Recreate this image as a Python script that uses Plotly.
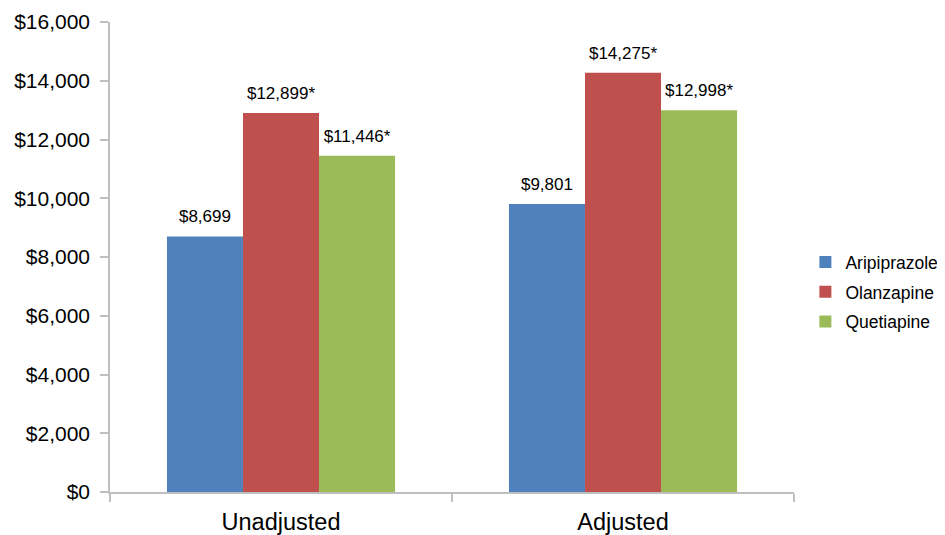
import plotly.graph_objects as go

categories = ["Unadjusted", "Adjusted"]
aripiprazole = [8699, 9801]
olanzapine = [12899, 14275]
quetiapine = [11446, 12998]
aripiprazole_labels = ["$8,699", "$9,801"]
olanzapine_labels = ["$12,899*", "$14,275*"]
quetiapine_labels = ["$11,446*", "$12,998*"]
series_names = ["Aripiprazole", "Olanzapine", "Quetiapine"]
colors = ["#4F81BD", "#C0504D", "#9BBB59"]

FONT = "Liberation Sans, Arial, sans-serif"

fig = go.Figure()
for i, (name, vals, labels, col) in enumerate(zip(series_names,
                                   [aripiprazole, olanzapine, quetiapine],
                                   [aripiprazole_labels, olanzapine_labels, quetiapine_labels],
                                   colors)):
    fig.add_trace(go.Bar(
        x=categories, y=vals, name=name, offsetgroup=str(i), legendgroup=name,
        marker=dict(color=col, line=dict(width=0)),
        hoverinfo="skip",
    ))
    fig.add_trace(go.Scatter(
        x=categories, y=vals, offsetgroup=str(i), showlegend=False,
        mode="markers+text", text=labels, textposition="top center",
        marker=dict(size=14, opacity=0, color=col),
        textfont=dict(size=17, color="#000000", family=FONT),
        cliponaxis=False, hoverinfo="skip",
    ))

fig.update_layout(
    width=937, height=527,
    margin=dict(l=102, r=151, t=14, b=43, autoexpand=False),
    paper_bgcolor="white", plot_bgcolor="white",
    barmode="group", bargap=0.333, bargroupgap=0,
    scattermode="group", scattergap=0.333,
    font=dict(family=FONT, color="#000000"),
    showlegend=True,
    legend=dict(xref="container", yref="container", x=0.851, y=0.461,
                xanchor="left", yanchor="middle",
                font=dict(size=17.5, family=FONT), itemsizing="constant",
                tracegroupgap=4, bgcolor="rgba(0,0,0,0)"),
)
fig.update_xaxes(
    showline=True, linecolor="#BFBFBF", linewidth=1.5,
    ticks="outside", tickson="boundaries", ticklen=8, tickcolor="#BFBFBF", tickwidth=1.5,
    tickfont=dict(size=23.5, family=FONT), showgrid=False,
    automargin=False, ticklabelstandoff=8,
)
fig.update_yaxes(
    range=[0, 16000], dtick=2000, tickprefix="$", tickformat=",d",
    showline=True, linecolor="#BFBFBF", linewidth=1.5,
    ticks="outside", ticklen=8, tickcolor="#BFBFBF", tickwidth=1.5,
    tickfont=dict(size=21, family=FONT), showgrid=False, zeroline=False,
    automargin=False, ticklabelstandoff=6,
)

fig.write_html("out.html")
